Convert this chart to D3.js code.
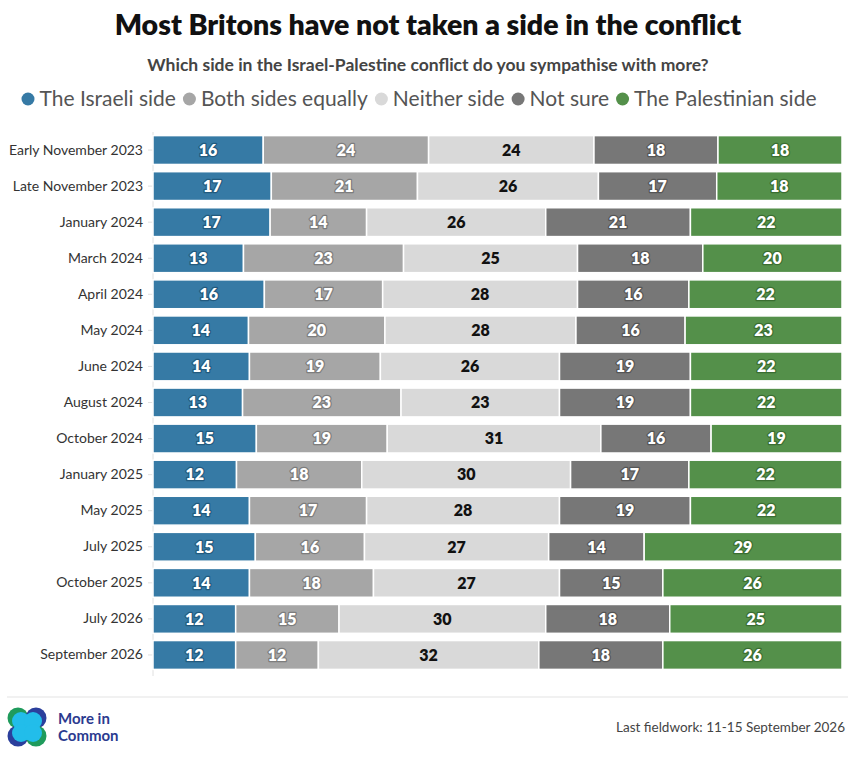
<!DOCTYPE html>
<html>
<head>
<meta charset="utf-8">
<script src="https://cdn.jsdelivr.net/npm/d3@7"></script>
<style>
  body { margin: 0; background: #fff; }
  svg text { font-family: Lato, "Open Sans", sans-serif; }
</style>
</head>
<body>
<div id="chart"></div>
<script>
const periods = ["Early November 2023", "Late November 2023", "January 2024", "March 2024", "April 2024",
  "May 2024", "June 2024", "August 2024", "October 2024", "January 2025", "May 2025", "July 2025",
  "October 2025", "July 2026", "September 2026"];
const israeli     = [16, 17, 17, 13, 16, 14, 14, 13, 15, 12, 14, 15, 14, 12, 12];
const bothSides   = [24, 21, 14, 23, 17, 20, 19, 23, 19, 18, 17, 16, 18, 15, 12];
const neither     = [24, 26, 26, 25, 28, 28, 26, 23, 31, 30, 28, 27, 27, 30, 32];
const notSure     = [18, 17, 21, 18, 16, 16, 19, 19, 16, 17, 19, 14, 15, 18, 18];
const palestinian = [18, 18, 22, 20, 22, 23, 22, 22, 19, 22, 22, 29, 26, 25, 26];

const seriesNames = ["The Israeli side", "Both sides equally", "Neither side", "Not sure", "The Palestinian side"];
const seriesKeys = ["israeli", "both", "neither", "notSure", "palestinian"];
const colors = ["#367aa5", "#a6a6a6", "#d9d9d9", "#777777", "#54904a"];
const halos = ["#225a7e", "#7d7d7d", "#d9d9d9", "#555555", "#3a6e31"];
const textColors = ["#fff", "#fff", "#111", "#fff", "#fff"];

const rows = periods.map((p, i) => ({
  period: p, israeli: israeli[i], both: bothSides[i], neither: neither[i],
  notSure: notSure[i], palestinian: palestinian[i]
}));

const W = 856, H = 760;
const svg = d3.select("#chart").append("svg").attr("width", W).attr("height", H);

// title + subtitle
svg.append("text").attr("x", 428).attr("y", 35).attr("text-anchor", "middle")
  .style("font-size", "28.5px").style("font-weight", 800).style("fill", "#111")
  .text("Most Britons have not taken a side in the conflict");
svg.append("text").attr("x", 428).attr("y", 71).attr("text-anchor", "middle")
  .style("font-size", "17.5px").style("font-weight", 700).style("fill", "#444")
  .text("Which side in the Israel-Palestine conflict do you sympathise with more?");

// legend, centred
const legend = svg.append("g");
let lx = 0;
seriesNames.forEach((name, i) => {
  const item = legend.append("g").attr("transform", `translate(${lx},0)`);
  item.append("circle").attr("cx", 6.5).attr("cy", 99).attr("r", 6.5).attr("fill", colors[i]);
  const t = item.append("text").attr("x", 18).attr("y", 106)
    .style("font-size", "21px").style("fill", "#555").text(name);
  lx += 18 + t.node().getComputedTextLength() + 7;
});
lx -= 7;
legend.attr("transform", `translate(${(W - lx) / 2 - 9},0)`);

// scales
const x = d3.scaleLinear().domain([0, 1]).range([153, 842]);
const y = d3.scaleBand().domain(periods).range([132, 673]).paddingInner(0.2).paddingOuter(0.1);

const stack = d3.stack().keys(seriesKeys).offset(d3.stackOffsetExpand);
const series = stack(rows);

// y axis
const yAxis = svg.append("g").attr("transform", "translate(153,0)")
  .call(d3.axisLeft(y).tickSize(5).tickPadding(5));
yAxis.select(".domain").attr("stroke", "#e0e0e0").attr("d", "M0,132V676");
yAxis.selectAll(".tick line").attr("stroke", "#e0e0e0");
yAxis.selectAll(".tick text").style("font-size", "14px").style("fill", "#333")
  .style("font-family", "Lato, sans-serif");

// bars
const layers = svg.append("g").selectAll("g").data(series).join("g")
  .attr("fill", (d, i) => colors[i]);
layers.selectAll("rect").data(d => d).join("rect")
  .attr("x", d => x(d[0]))
  .attr("y", d => y(d.data.period))
  .attr("width", d => x(d[1]) - x(d[0]))
  .attr("height", y.bandwidth())
  .attr("stroke", "#fff").attr("stroke-width", 1.5);

// value labels
series.forEach((s, i) => {
  svg.append("g").selectAll("text").data(s).join("text")
    .attr("x", d => (x(d[0]) + x(d[1])) / 2)
    .attr("y", d => y(d.data.period) + y.bandwidth() / 2)
    .attr("dy", "0.36em")
    .attr("text-anchor", "middle")
    .style("font-size", "16px").style("font-weight", 800)
    .style("fill", textColors[i])
    .style("stroke", halos[i]).style("stroke-width", 2.5)
    .style("paint-order", "stroke").style("stroke-linejoin", "round")
    .text(d => d.data[s.key]);
});

// footer
svg.append("line").attr("x1", 7).attr("x2", 848).attr("y1", 697).attr("y2", 697)
  .attr("stroke", "#e3e3e3").attr("stroke-width", 1);

const logo = svg.append("g").attr("transform", "translate(27,727)");
[[-9, -9, "#1f9b5c"], [9, -9, "#2b3f9c"], [-9, 9, "#2b3f9c"], [9, 9, "#1f9b5c"]].forEach(c => {
  logo.append("circle").attr("cx", c[0]).attr("cy", c[1]).attr("r", 10.5).attr("fill", c[2]);
});
[[-6, -6], [6, -6], [-6, 6], [6, 6]].forEach(c => {
  logo.append("circle").attr("cx", c[0]).attr("cy", c[1]).attr("r", 9).attr("fill", "#22bdea");
});
svg.append("text").attr("x", 58).attr("y", 724).style("font-size", "15px").style("font-weight", 700)
  .style("fill", "#2b3a8f").text("More in");
svg.append("text").attr("x", 58).attr("y", 741).style("font-size", "15px").style("font-weight", 700)
  .style("fill", "#2b3a8f").text("Common");

svg.append("text").attr("x", 845).attr("y", 732).attr("text-anchor", "end")
  .style("font-size", "13.5px").style("fill", "#444")
  .text("Last fieldwork: 11-15 September 2026");
</script>
</body>
</html>
